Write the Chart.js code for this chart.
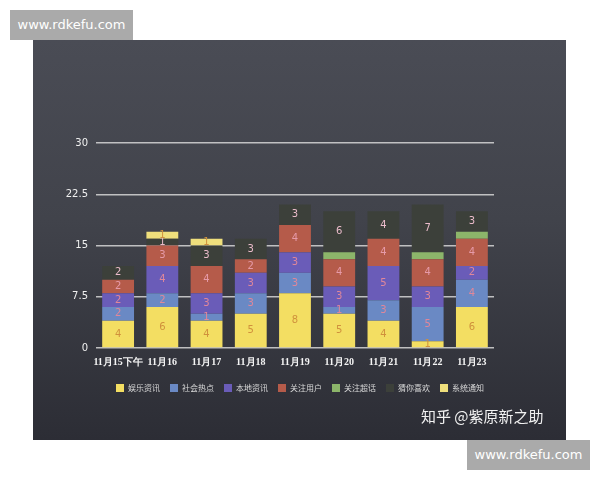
<!DOCTYPE html>
<html>
<head>
<meta charset="utf-8">
<script src="https://cdn.jsdelivr.net/npm/chart.js@4"></script>
<style>
  body { margin: 0; background: #fff; }
  #wrap { position: relative; width: 600px; height: 480px; overflow: hidden; }
  #board {
    position: absolute; left: 33px; top: 40px; width: 533px; height: 400px;
    background: linear-gradient(180deg, #4a4c55 0%, #41434b 45%, #2c2d35 100%);
  }
  #chart { position: absolute; left: 0; top: 0; }
  .mark {
    position: absolute; width: 123px; height: 30px; background: #aaaaaa; color: #fff;
    font: 13px "DejaVu Sans", sans-serif; line-height: 30px; text-align: center;
  }
  #zhihu {
    position: absolute; left: 421px; top: 405px; color: #f2f2f2;
    font: 15px "Noto Sans CJK SC", sans-serif;
  }
</style>
</head>
<body>
<div id="wrap">
  <div id="board"></div>
  <canvas id="chart" width="600" height="480"></canvas>
  <div class="mark" style="left:10px; top:10px;">www.rdkefu.com</div>
  <div class="mark" style="left:467px; top:440px;">www.rdkefu.com</div>
  <div id="zhihu">知乎 @紫原新之助</div>
</div>
<script>
// categories and series values
var categories = ["11月15下午", "11月16", "11月17", "11月18", "11月19", "11月20", "11月21", "11月22", "11月23"];
var yule     = [4, 6, 4, 5, 8, 5, 4, 1, 6];   // 娱乐资讯
var shehui   = [2, 2, 1, 3, 3, 1, 3, 5, 4];   // 社会热点
var bendi    = [2, 4, 3, 3, 3, 3, 5, 3, 2];   // 本地资讯
var guanzhu  = [2, 3, 4, 2, 4, 4, 4, 4, 4];   // 关注用户
var chaohua  = [0, 0, 0, 0, 0, 1, 0, 1, 1];   // 关注超话
var cainixh  = [2, 1, 3, 3, 3, 6, 4, 7, 3];   // 猜你喜欢
var xitong   = [0, 1, 1, 0, 0, 0, 0, 0, 0];   // 系统通知
var yTicks   = [0, 7.5, 15, 22.5, 30];

// numbers written inside each segment
var segmentLabels = {
  id: "segmentLabels",
  afterDatasetsDraw: function(chart) {
    var ctx = chart.ctx;
    ctx.save();
    ctx.font = "10px 'DejaVu Sans'";
    ctx.textAlign = "center";
    ctx.textBaseline = "middle";
    chart.data.datasets.forEach(function(ds, i) {
      if (ds.noLabel) return;
      chart.getDatasetMeta(i).data.forEach(function(bar, j) {
        var v = ds.data[j];
        if (!v) return;
        ctx.fillStyle = ds.labelColor;
        ctx.fillText(String(v), bar.x, (bar.y + bar.base) / 2);
      });
    });
    ctx.restore();
  }
};

var ctx = document.getElementById("chart").getContext("2d");
var myChart = new Chart(ctx, {
  type: "bar",
  data: {
    labels: categories,
    datasets: [
      { label: "娱乐资讯", data: yule,    backgroundColor: "#f3de62", labelColor: "#d0913c" },
      { label: "社会热点", data: shehui,  backgroundColor: "#6a89c4", labelColor: "#e0879a" },
      { label: "本地资讯", data: bendi,   backgroundColor: "#6a5cb8", labelColor: "#e0879a" },
      { label: "关注用户", data: guanzhu, backgroundColor: "#b55b4a", labelColor: "#e69aa8" },
      { label: "关注超话", data: chaohua, backgroundColor: "#8cb56a", noLabel: true },
      { label: "猜你喜欢", data: cainixh, backgroundColor: "#3c403a", labelColor: "#ebbccb" },
      { label: "系统通知", data: xitong,  backgroundColor: "#efdf7c", labelColor: "#d0913c" }
    ]
  },
  options: {
    responsive: false,
    animation: false,
    layout: { padding: { left: 0, right: 0, top: 143, bottom: 78 } },
    datasets: { bar: { barPercentage: 0.72, categoryPercentage: 1 } },
    scales: {
      x: {
        stacked: true,
        afterFit: function(scale) { scale.height = 26; },
        grid: { display: false, drawTicks: false },
        border: { display: false },
        ticks: { color: "#f4f4f4", font: { family: "Liberation Sans Narrow", size: 10, weight: "bold" }, padding: 8, maxRotation: 0, autoSkip: false }
      },
      y: {
        stacked: true,
        min: 0,
        max: 30,
        afterFit: function(scale) { scale.width = 96; },
        afterBuildTicks: function(scale) { scale.ticks = yTicks.map(function(v) { return { value: v }; }); },
        grid: { color: "rgba(215,215,215,0.85)", lineWidth: 1.5, drawTicks: false },
        border: { display: false },
        ticks: { color: "#f0f0f0", font: { family: "DejaVu Sans", size: 10 }, padding: 8 }
      },
      // empty right-hand axis, only keeps the plot narrower than the canvas
      yRight: {
        position: "right",
        afterFit: function(scale) { scale.width = 106; },
        grid: { display: false },
        border: { display: false },
        ticks: { display: false }
      }
    },
    plugins: {
      tooltip: { enabled: false },
      legend: {
        position: "bottom",
        labels: {
          color: "#d8d8d8",
          boxWidth: 8,
          boxHeight: 8,
          padding: 10,
          font: { family: "Noto Sans CJK SC", size: 8 }
        }
      }
    }
  },
  plugins: [segmentLabels]
});
</script>
</body>
</html>
